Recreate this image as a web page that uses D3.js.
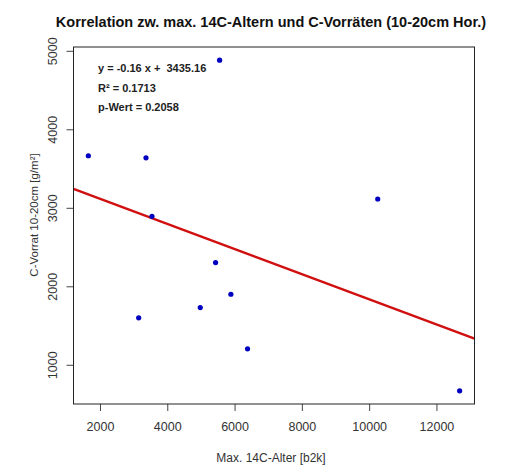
<!DOCTYPE html>
<html><head><meta charset="utf-8">
<script src="https://cdn.jsdelivr.net/npm/d3@7/dist/d3.min.js"></script>
<style>
body{margin:0;background:#fff;}
text{font-family:"Liberation Sans",Arial,sans-serif;white-space:pre;}
</style></head>
<body>
<svg id="c" width="507" height="465"></svg>
<script>
const age = [1654, 3367, 3545, 5436, 5891, 4980, 3150, 6386, 10255, 12690, 5555];
const cstock = [3663, 3637, 2892, 2302, 1899, 1729, 1598, 1204, 3112, 669, 4880];
const xTicks = [2000, 4000, 6000, 8000, 10000, 12000];
const yTicks = [1000, 2000, 3000, 4000, 5000];
const slope = -0.16, intercept = 3435.16;
const stats = ["y = -0.16 x +  3435.16", "R\u00b2 = 0.1713", "p-Wert = 0.2058"];

const L = 73.5, R = 474.5, T = 47, B = 404;
const svg = d3.select("#c");
function ext(a){const lo=d3.min(a),hi=d3.max(a),d=hi-lo;return [lo-0.04*d,hi+0.04*d];}
const x = d3.scaleLinear().domain(ext(age)).range([L,R]);
const y = d3.scaleLinear().domain(ext(cstock)).range([B,T]);

svg.append("text").attr("x",271).attr("y",27).attr("text-anchor","middle")
  .attr("font-size",14.5).attr("font-weight","bold").attr("fill","#111")
  .text("Korrelation zw. max. 14C-Altern und C-Vorräten (10-20cm Hor.)");

// x axis
const xa = svg.append("g").attr("transform",`translate(0,${B})`)
  .call(d3.axisBottom(x).tickValues(xTicks).tickSize(7).tickFormat(d3.format("d")));
xa.select(".domain").remove();
xa.selectAll("text").attr("font-size",12.5).attr("fill","#333").attr("y",27).attr("dy",0);
xa.selectAll("line").attr("stroke","#444");

// y axis
const ya = svg.append("g").attr("transform",`translate(${L},0)`)
  .call(d3.axisLeft(y).tickValues(yTicks).tickSize(7).tickFormat(d3.format("d")));
ya.select(".domain").remove();
ya.selectAll("line").attr("stroke","#444");
ya.selectAll("text").attr("font-size",12.5).attr("fill","#333")
  .attr("text-anchor","middle").attr("x",0).attr("dy",0)
  .attr("transform","translate(-17,0) rotate(-90)");

svg.append("text").attr("x",271).attr("y",462).attr("text-anchor","middle")
  .attr("font-size",12).attr("fill","#333").text("Max. 14C-Alter [b2k]");
svg.append("text").attr("transform","translate(38,215) rotate(-90)").attr("text-anchor","middle")
  .attr("font-size",11.5).attr("fill","#333").text("C-Vorrat 10-20cm [g/m²]");

svg.append("clipPath").attr("id","clip").append("rect").attr("x",L).attr("y",T).attr("width",R-L).attr("height",B-T);
const xd = x.domain();
svg.append("line").attr("clip-path","url(#clip)")
  .attr("x1",x(xd[0])).attr("y1",y(slope*xd[0]+intercept))
  .attr("x2",x(xd[1])).attr("y2",y(slope*xd[1]+intercept))
  .attr("stroke","#d01010").attr("stroke-width",2.4);

svg.append("g").selectAll("circle").data(age).join("circle")
  .attr("cx",d=>x(d)).attr("cy",(d,i)=>y(cstock[i])).attr("r",2.6).attr("fill","#0000c0");

svg.append("rect").attr("x",L).attr("y",T).attr("width",R-L).attr("height",B-T)
  .attr("fill","none").attr("stroke","#222").attr("stroke-width",1);

svg.append("g").selectAll("text").data(stats).join("text")
  .attr("x",98).attr("y",(d,i)=>72+i*19.5).attr("font-size",11).attr("font-weight","bold").attr("fill","#222")
  .text(d=>d);
</script>
</body></html>
